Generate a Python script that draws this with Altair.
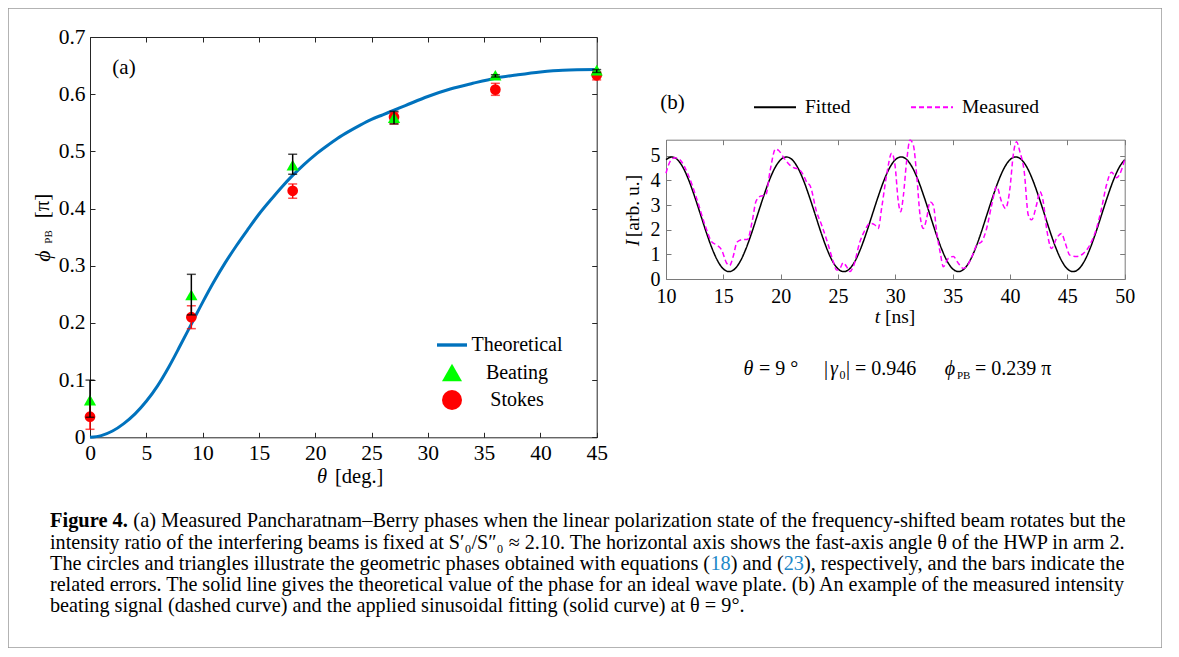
import altair as alt
import pandas as pd

# ---------------- panel (a) data ----------------
theta_curve = [0, 1, 2, 3, 4, 5, 6, 7, 8, 9, 10, 11, 12, 13, 14, 15, 16, 17, 18, 19,
               20, 21, 22, 23, 24, 25, 26, 27, 28, 30, 32, 34, 36, 38, 40, 42, 45]
phi_curve = [0, 0.003, 0.011, 0.024, 0.041, 0.063, 0.09, 0.123, 0.16, 0.198,
             0.236, 0.272, 0.305, 0.335, 0.363, 0.39, 0.414, 0.437, 0.458, 0.477,
             0.494, 0.509, 0.523, 0.535, 0.546, 0.556, 0.564, 0.572, 0.58,
             0.596, 0.609, 0.619, 0.628, 0.634, 0.639, 0.642, 0.643]
theta_pts = [0, 9, 18, 27, 36, 45]
beating = [0.065, 0.249, 0.476, 0.559, 0.633, 0.642]
beating_lo = [0.035, 0.214, 0.460, 0.548, 0.630, 0.638]
beating_hi = [0.100, 0.285, 0.495, 0.570, 0.634, 0.643]
stokes = [0.036, 0.210, 0.431, 0.560, 0.608, 0.633]
stokes_lo = [0.014, 0.190, 0.418, 0.548, 0.598, 0.625]
stokes_hi = [0.058, 0.230, 0.443, 0.568, 0.619, 0.639]
series_a = ["Theoretical", "Beating", "Stokes"]
xticks_a = [0, 5, 10, 15, 20, 25, 30, 35, 40, 45]
yticks_a = [0, 0.1, 0.2, 0.3, 0.4, 0.5, 0.6, 0.7]

# ---------------- panel (b) data ----------------
t_fit = [10.0, 10.5, 11.0, 11.5, 12.0, 12.5, 13.0, 13.5, 14.0, 14.5, 15.0, 15.5, 16.0, 16.5,
         17.0, 17.5, 18.0, 18.5, 19.0, 19.5, 20.0, 20.5, 21.0, 21.5, 22.0, 22.5, 23.0, 23.5,
         24.0, 24.5, 25.0, 25.5, 26.0, 26.5, 27.0, 27.5, 28.0, 28.5, 29.0, 29.5, 30.0, 30.5,
         31.0, 31.5, 32.0, 32.5, 33.0, 33.5, 34.0, 34.5, 35.0, 35.5, 36.0, 36.5, 37.0, 37.5,
         38.0, 38.5, 39.0, 39.5, 40.0, 40.5, 41.0, 41.5, 42.0, 42.5, 43.0, 43.5, 44.0, 44.5,
         45.0, 45.5, 46.0, 46.5, 47.0, 47.5, 48.0, 48.5, 49.0, 49.5, 50.0]
I_fit = [4.84,
         4.95, 4.84, 4.51, 3.99, 3.34, 2.63, 1.91, 1.26, 0.74, 0.41, 0.30, 0.41, 0.74, 1.26, 1.91, 2.63, 3.34, 3.99, 4.51, 4.84,
         4.95, 4.84, 4.51, 3.99, 3.34, 2.63, 1.91, 1.26, 0.74, 0.41, 0.30, 0.41, 0.74, 1.26, 1.91, 2.63, 3.34, 3.99, 4.51, 4.84,
         4.95, 4.84, 4.51, 3.99, 3.34, 2.63, 1.91, 1.26, 0.74, 0.41, 0.30, 0.41, 0.74, 1.26, 1.91, 2.63, 3.34, 3.99, 4.51, 4.84,
         4.95, 4.84, 4.51, 3.99, 3.34, 2.63, 1.91, 1.26, 0.74, 0.41, 0.30, 0.41, 0.74, 1.26, 1.91, 2.63, 3.34, 3.99, 4.51, 4.84]
t_meas = [10.0, 10.35, 10.78, 11.22, 11.94, 12.67, 13.4, 13.98, 14.42, 14.85, 15.29, 15.55, 15.85,
          16.2, 16.7, 17.1, 17.5, 17.85, 18.2, 18.7, 19.1, 19.55, 19.85, 20.3, 20.8, 21.2, 21.6,
          22.0, 22.3, 22.55, 23.13, 23.57, 24.15, 24.59, 24.88, 25.17, 25.46, 25.75, 26.04, 26.33,
          26.91, 27.35, 27.79, 28.22, 28.51, 28.8, 29.24, 29.68, 29.97, 30.26, 30.46, 30.69, 30.98,
          31.28, 31.57, 31.86, 32.15, 32.44, 32.73, 33.02, 33.31, 33.6, 33.95, 34.18, 34.62, 35.05,
          35.49, 35.92, 36.35, 36.8, 37.09, 37.52, 37.96, 38.4, 38.83, 39.27, 39.61, 39.99, 40.28,
          40.57, 40.86, 41.24, 41.59, 41.88, 42.31, 42.6, 42.9, 43.19, 43.62, 44.06, 44.49, 44.78,
          45.22, 45.8, 46.38, 46.96, 47.54, 47.98, 48.41, 48.85, 49.29, 49.72, 50.0]
I_meas = [4.29, 4.76, 4.92, 4.83, 4.22, 3.27, 2.19, 1.51, 1.38, 1.18, 0.64, 0.55, 0.9,
          1.5, 1.6, 1.6, 2.3, 3.15, 3.35, 3.41, 4.45, 5.27, 5.2, 4.9, 4.62, 4.5, 4.45,
          4.2, 3.9, 3.8, 2.73, 2.19, 1.38, 0.7, 0.36, 0.43, 0.66, 0.5, 0.3, 0.5,
          1.51, 1.98, 2.26, 2.19, 2.05, 2.86, 4.22, 5.1, 4.62, 3.13, 2.73, 3.34, 4.76,
          5.64, 5.43, 4.22, 2.6, 2.05, 2.46, 3.13, 3.0, 1.92, 0.97, 0.5, 0.84, 0.91,
          0.64, 0.43, 0.6, 1.05, 1.38, 1.51, 2.05, 3.0, 3.75, 3.13, 2.86, 3.67, 5.03,
          5.57, 5.16, 4.35, 2.6, 2.4, 3.0, 3.54, 3.13, 2.05, 1.24, 1.65, 1.85, 1.51,
          0.97, 0.91, 1.03, 1.38, 2.05, 2.86, 3.81, 4.33, 4.11, 4.42, 4.85]
series_b = ["Fitted", "Measured"]
xticks_b = [10, 15, 20, 25, 30, 35, 40, 45, 50]
yticks_b = [0, 1, 2, 3, 4, 5]

# ---------------- caption text ----------------
cap_bold = "Figure 4."
cap_l1 = "(a) Measured Pancharatnam\u2013Berry phases when the linear polarization state of the frequency-shifted beam rotates but the"
cap_l2 = "intensity ratio of the interfering beams is fixed at S\u2032\u2080/S\u2033\u2080 \u2248 2.10. The horizontal axis shows the fast-axis angle \u03b8 of the HWP in arm 2."
cap_l3 = ["The circles and triangles illustrate the geometric phases obtained with equations (", "18", ") and (", "23",
          "), respectively, and the bars indicate the"]
cap_l4 = "related errors. The solid line gives the theoretical value of the phase for an ideal wave plate. (b) An example of the measured intensity"
cap_l5 = "beating signal (dashed curve) and the applied sinusoidal fitting (solid curve) at \u03b8 = 9\u00b0."

# ---------------- layout / style ----------------
SERIF = "Liberation Serif"
W, H = 1154, 640
A_X = ([0, 45], [82, 588.7])
A_Y = ([0, 0.7], [429.3, 29])
B_X = ([10, 50], [658, 1116.7])
B_Y = ([0, 5.65], [271, 131.7])
BLUE, GREEN, RED, MAG = "#0072bd", "#00ff00", "#ff0000", "#ff00ff"
A_COL, B_COL = "#262626", "#7a7a7a"
PHI = "\u03d5"


def sc(d):
    return alt.Scale(domain=d[0], range=d[1], nice=False, zero=False)


def ax(orient, offset, values, labels=False, tick=5, domain=True, color=A_COL, fs=21.5, pad=5, fmt=None):
    kw = dict(orient=orient, offset=offset, values=values, labels=labels, ticks=tick > 0, tickSize=tick,
              domain=domain, grid=False, title=None, domainColor=color, tickColor=color, domainWidth=1,
              tickWidth=1, labelFont=SERIF, labelFontSize=fs, labelColor="black", labelPadding=pad,
              labelFlush=False, labelOverlap=False)
    if fmt:
        kw["format"] = fmt
    return alt.Axis(**kw)


def txt(s, x, y, size, style="normal", weight="normal", align="center", angle=0, color="black", baseline="middle"):
    return alt.Chart(pd.DataFrame({"s": [s]})).mark_text(
        font=SERIF, fontSize=size, fontStyle=style, fontWeight=weight, align=align,
        baseline=baseline, angle=angle, color=color).encode(x=alt.value(x), y=alt.value(y), text="s:N")


# ---------- panel (a) layers ----------
curve_df = pd.DataFrame({"theta": theta_curve, "phi": phi_curve})
beat_df = pd.DataFrame({"theta": theta_pts, "phi": beating, "lo": beating_lo, "hi": beating_hi, "series": "Beating"})
stok_df = pd.DataFrame({"theta": theta_pts, "phi": stokes, "lo": stokes_lo, "hi": stokes_hi, "series": "Stokes"})
beat_caps = pd.DataFrame({"theta": theta_pts + theta_pts, "v": beating_lo + beating_hi})
stok_caps = pd.DataFrame({"theta": theta_pts + theta_pts, "v": stokes_lo + stokes_hi})

legend_a = alt.Legend(title=None, orient="none", legendX=434, legendY=327, labelFont=SERIF, labelFontSize=20,
                      labelColor="black", labelAlign="center", labelOffset=55, symbolSize=400, rowPadding=7.5,
                      symbolStrokeWidth=0, padding=0)
color_a = alt.Scale(domain=series_a, range=[BLUE, GREEN, RED])
shape_a = alt.Scale(domain=series_a, range=["M-1.5,-0.17H1.5V0.17H-1.5Z", "triangle-up", "circle"])

curve = alt.Chart(curve_df).mark_line(color=BLUE, strokeWidth=3, interpolate="monotone").encode(
    x=alt.X("theta:Q", scale=sc(A_X), axis=ax("bottom", -(H - 429.3), xticks_a, labels=True, tick=0, pad=5)),
    y=alt.Y("phi:Q", scale=sc(A_Y), axis=ax("left", -82, yticks_a, labels=True, tick=0, pad=5, fmt=".1~f")))

red_bars = alt.Chart(stok_df).mark_rule(color=RED, strokeWidth=1.5).encode(
    x=alt.X("theta:Q", scale=sc(A_X), axis=None), y=alt.Y("lo:Q", scale=sc(A_Y), axis=None), y2="hi:Q")
red_caps = alt.Chart(stok_caps).mark_tick(color=RED, orient="horizontal", size=9, thickness=1.5).encode(
    x=alt.X("theta:Q", scale=sc(A_X), axis=None), y=alt.Y("v:Q", scale=sc(A_Y), axis=None))
circles = alt.Chart(stok_df).mark_point(filled=True, size=115, opacity=1).encode(
    x=alt.X("theta:Q", scale=sc(A_X), axis=ax("top", -429.3, xticks_a, domain=False)),
    y=alt.Y("phi:Q", scale=sc(A_Y), axis=ax("right", 82 - W, yticks_a, domain=False)),
    color=alt.Color("series:N", scale=color_a, legend=legend_a),
    shape=alt.Shape("series:N", scale=shape_a, legend=legend_a))
triangles = alt.Chart(beat_df).mark_point(filled=True, size=150, opacity=1).encode(
    x=alt.X("theta:Q", scale=sc(A_X), axis=ax("bottom", -(H - 29), xticks_a)),
    y=alt.Y("phi:Q", scale=sc(A_Y), axis=ax("left", -588.7, yticks_a)),
    color=alt.Color("series:N", scale=color_a, legend=legend_a),
    shape=alt.Shape("series:N", scale=shape_a, legend=legend_a))
blk_bars = alt.Chart(beat_df).mark_rule(color="black", strokeWidth=1.5).encode(
    x=alt.X("theta:Q", scale=sc(A_X), axis=None), y=alt.Y("lo:Q", scale=sc(A_Y), axis=None), y2="hi:Q")
blk_caps = alt.Chart(beat_caps).mark_tick(color="black", orient="horizontal", size=9, thickness=1.5).encode(
    x=alt.X("theta:Q", scale=sc(A_X), axis=None), y=alt.Y("v:Q", scale=sc(A_Y), axis=None))

# ---------- panel (b) layers ----------
fit_df = pd.DataFrame({"t": t_fit, "I": I_fit, "series": "Fitted"})
meas_df = pd.DataFrame({"t": t_meas, "I": I_meas, "series": "Measured"})
legend_b = alt.Legend(title=None, orient="none", direction="horizontal", legendX=745, legendY=77,
                      symbolType="stroke", symbolSize=1764, symbolStrokeWidth=1.8, labelFont=SERIF,
                      labelFontSize=19.5, labelColor="black", labelOffset=8, columnPadding=56, padding=0)
stroke_b = alt.Scale(domain=series_b, range=["black", MAG])
dash_b = alt.Scale(domain=series_b, range=[[1, 0], [5, 3]])

fit_line = alt.Chart(fit_df).mark_line(strokeWidth=1.5, interpolate="monotone").encode(
    x=alt.X("t:Q", scale=sc(B_X), axis=ax("bottom", -(H - 271), xticks_b, labels=True, tick=0, pad=7,
                                           color=B_COL, fs=20)),
    y=alt.Y("I:Q", scale=sc(B_Y), axis=ax("left", -658, yticks_b, labels=True, tick=0, pad=6, color=B_COL, fs=20)),
    stroke=alt.Stroke("series:N", scale=stroke_b, legend=legend_b),
    strokeDash=alt.StrokeDash("series:N", scale=dash_b, legend=legend_b))
meas_line = alt.Chart(meas_df).mark_line(strokeWidth=1.5, interpolate="monotone").encode(
    x=alt.X("t:Q", scale=sc(B_X), axis=ax("top", -271, xticks_b, domain=False, color=B_COL)),
    y=alt.Y("I:Q", scale=sc(B_Y), axis=ax("right", 658 - W, yticks_b, domain=False, color=B_COL)),
    stroke=alt.Stroke("series:N", scale=stroke_b, legend=legend_b),
    strokeDash=alt.StrokeDash("series:N", scale=dash_b, legend=legend_b))
frame_b = alt.Chart(fit_df).mark_point(opacity=0).encode(
    x=alt.X("t:Q", scale=sc(B_X), axis=ax("bottom", -(H - 131.7), xticks_b, color=B_COL)),
    y=alt.Y("I:Q", scale=sc(B_Y), axis=ax("left", -1116.7, yticks_b, color=B_COL)))

# ---------- text ----------
texts = [
    txt("(a)", 116, 60, 21),
    txt("\u03b8", 314, 469, 20.5, style="italic"),
    txt("[deg.]", 327, 469, 20.5, align="left"),
    txt(PHI, 35, 248, 22, style="italic", angle=270),
    txt("PB", 41, 229, 11, angle=270),
    txt("[\u03c0]", 35, 198, 21, angle=270),
    txt("(b)", 664.5, 95, 21),
    txt("I", 625, 235, 19.5, style="italic", angle=270),
    txt("[arb. u.]", 625, 198, 19.5, angle=270),
    txt("t", 869.5, 309, 19.5, style="italic"),
    txt("[ns]", 877, 309, 19.5, align="left"),
    txt("\u03b8", 740.5, 361, 20, style="italic"),
    txt("= 9 \u00b0", 751, 361, 20, align="left"),
    txt("|", 816, 361, 20, align="left"),
    txt("\u03b3", 822, 361, 20, style="italic", align="left"),
    txt("\u2080| = 0.946", 831, 361, 20, align="left"),
    txt(PHI, 942, 361, 20, style="italic"),
    txt("PB", 949, 368, 11, align="left"),
    txt("= 0.239 \u03c0", 967, 361, 20, align="left"),
]

# caption: widths from Times metrics (Liberation Serif is metric compatible)
TR = {' ': 250, '(': 333, ')': 333, ',': 250, '-': 333, '.': 250, '/': 278, '=': 564,
      'A': 722, 'B': 667, 'C': 667, 'D': 722, 'E': 611, 'F': 556, 'G': 722, 'H': 722, 'I': 333, 'J': 389,
      'K': 722, 'L': 611, 'M': 889, 'N': 722, 'O': 722, 'P': 556, 'Q': 722, 'R': 667, 'S': 556, 'T': 611,
      'U': 722, 'V': 722, 'W': 944, 'X': 722, 'Y': 722, 'Z': 611,
      'a': 444, 'b': 500, 'c': 444, 'd': 500, 'e': 444, 'f': 333, 'g': 500, 'h': 500, 'i': 278, 'j': 278,
      'k': 500, 'l': 278, 'm': 778, 'n': 500, 'o': 500, 'p': 500, 'q': 500, 'r': 333, 's': 389, 't': 278,
      'u': 500, 'v': 500, 'w': 722, 'x': 500, 'y': 500, 'z': 444,
      '\u2013': 500, '\u2248': 549, '\u03b8': 500, '\u00b0': 400, '\u2032': 275, '\u2033': 413, '\u2080': 300}
TB = {'F': 611, 'i': 278, 'g': 500, 'u': 556, 'r': 444, 'e': 444, ' ': 250, '4': 500, '.': 250}


def em(s, table=TR):
    return sum(table.get(ch, 500) for ch in s) / 1000.0


X0, FULL, CAP = 42, 1076, 20.5
cap_y = [513, 535, 556, 577, 598]
# line 1
u1 = em(cap_bold, TB) + em(" ") + em(cap_l1)
fs1 = min(CAP, FULL / u1)
texts.append(txt(cap_bold, X0, cap_y[0], fs1, weight="bold", align="left"))
texts.append(txt(cap_l1, X0 + (em(cap_bold, TB) + em(" ")) * fs1, cap_y[0], fs1, align="left"))
# line 2
fs2 = min(CAP, FULL / em(cap_l2))
texts.append(txt(cap_l2, X0, cap_y[1], fs2, align="left"))
# line 3 with blue references
fs3 = min(CAP, FULL / em("".join(cap_l3)))
xpos = X0
for k, seg in enumerate(cap_l3):
    texts.append(txt(seg, xpos, cap_y[2], fs3, align="left", color="#2288c8" if k in (1, 3) else "black"))
    xpos += em(seg) * fs3
# line 4
fs4 = min(CAP, FULL / em(cap_l4))
texts.append(txt(cap_l4, X0, cap_y[3], fs4, align="left"))
# line 5
fs5 = (fs1 + fs2 + fs3 + fs4) / 4
texts.append(txt(cap_l5, X0, cap_y[4], fs5, align="left"))

layers = [curve, red_bars, red_caps, circles, triangles, blk_bars, blk_caps,
          fit_line, meas_line, frame_b] + texts

chart = alt.layer(*layers).resolve_scale(x="independent", y="independent").properties(
    width=W, height=H, autosize=alt.AutoSizeParams(type="none"), padding=0
).configure_view(stroke="#9a9a9a", strokeWidth=1.5)

chart.save("out.html", embed_options={"renderer": "svg", "actions": False})
